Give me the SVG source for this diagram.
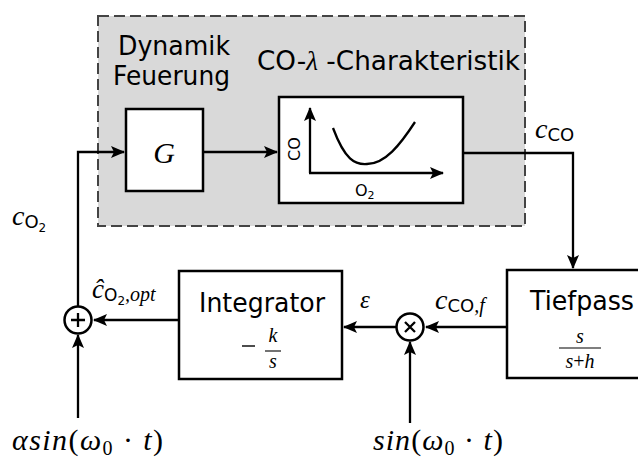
<svg xmlns="http://www.w3.org/2000/svg" width="638" height="458" viewBox="0 0 638 458">
<style>
.box{fill:#fff;stroke:#000;stroke-width:2.5}
.ln{fill:none;stroke:#000;stroke-width:2.3}
.sans{font-family:"DejaVu Sans",sans-serif;fill:#000}
.math{font-family:"Liberation Serif","DejaVu Serif",serif;font-style:italic;fill:#000}
.up{font-family:"Liberation Serif",serif;font-style:normal}
</style>
<defs>
<marker id="ah" markerUnits="userSpaceOnUse" markerWidth="14" markerHeight="12" viewBox="0 0 14 12" refX="13" refY="6" orient="auto">
<path d="M0,0 L14,6 L0,12 L3,6 Z" fill="#000"/>
</marker>
</defs>

<g id="group-box">
<rect x="98" y="16" width="427" height="210" fill="#d9d9d9" stroke="#444" stroke-width="2" stroke-dasharray="11,5"/>
<text class="sans" x="118" y="55" font-size="27" textLength="112" lengthAdjust="spacingAndGlyphs">Dynamik</text>
<text class="sans" x="113" y="85" font-size="27" textLength="117" lengthAdjust="spacingAndGlyphs">Feuerung</text>
<text class="sans" x="257" y="70" font-size="27" textLength="263" lengthAdjust="spacingAndGlyphs">CO-<tspan class="math" font-size="28">λ</tspan> -Charakteristik</text>
</g>

<g id="node-G">
<rect class="box" x="126" y="109" width="77" height="82"/>
<text class="math" x="164" y="163" font-size="30" text-anchor="middle">G</text>
</g>

<g id="node-CO">
<rect class="box" x="279" y="97" width="184" height="106"/>
<line class="ln" x1="310" y1="173" x2="310" y2="108" marker-end="url(#ah)"/>
<line class="ln" x1="309" y1="173" x2="443" y2="173" marker-end="url(#ah)"/>
<path class="ln" d="M333,128 C345,160 355,165 367,164 C385,164 400,145 415,122"/>
<text class="sans" font-size="16" text-anchor="middle" transform="translate(300,149) rotate(-90)">CO</text>
<text class="sans" x="355" y="196" font-size="16">O<tspan font-size="11" dy="3">2</tspan></text>
</g>

<g id="node-integrator">
<rect class="box" x="179" y="271" width="163" height="108"/>
<text class="sans" x="262" y="312" font-size="26" text-anchor="middle" textLength="126" lengthAdjust="spacingAndGlyphs">Integrator</text>
<line x1="242" y1="346" x2="255" y2="346" stroke="#000" stroke-width="1.4"/>
<text class="math" x="273" y="342" font-size="20" text-anchor="middle">k</text>
<line x1="265" y1="351" x2="281" y2="351" stroke="#000" stroke-width="1.1"/>
<text class="math" x="273" y="368" font-size="20" text-anchor="middle">s</text>
</g>

<g id="node-tiefpass">
<rect class="box" x="507" y="270" width="140" height="108"/>
<text class="sans" x="530" y="310" font-size="26" textLength="104" lengthAdjust="spacingAndGlyphs">Tiefpass</text>
<text class="math" x="580" y="343" font-size="20" text-anchor="middle">s</text>
<line x1="559" y1="348" x2="601" y2="348" stroke="#000" stroke-width="1.1"/>
<text class="math" x="580" y="368" font-size="20" text-anchor="middle">s<tspan class="up">+</tspan>h</text>
</g>

<g id="node-sum">
<circle cx="78" cy="320" r="13.5" fill="#fff" stroke="#000" stroke-width="2.5"/>
<path d="M71,320 H85 M78,313 V327" stroke="#000" stroke-width="2.3"/>
</g>

<g id="node-mult">
<circle cx="410" cy="327" r="13.5" fill="#fff" stroke="#000" stroke-width="2.5"/>
<path d="M405,322 L415,332 M415,322 L405,332" stroke="#000" stroke-width="2.3"/>
</g>

<g id="connectors">
<polyline class="ln" points="78,306 78,152 124,152" marker-end="url(#ah)"/>
<line class="ln" x1="203" y1="152" x2="277" y2="152" marker-end="url(#ah)"/>
<polyline class="ln" points="463,153 573,153 573,268" marker-end="url(#ah)"/>
<line class="ln" x1="507" y1="327" x2="426" y2="327" marker-end="url(#ah)"/>
<line class="ln" x1="396" y1="327" x2="344" y2="327" marker-end="url(#ah)"/>
<line class="ln" x1="179" y1="320" x2="94" y2="320" marker-end="url(#ah)"/>
<line class="ln" x1="78" y1="418" x2="78" y2="335" marker-end="url(#ah)"/>
<line class="ln" x1="410" y1="423" x2="410" y2="342" marker-end="url(#ah)"/>
</g>

<g id="labels">
<text class="math" x="535" y="138" font-size="28">c<tspan class="sans" font-style="normal" font-size="18" dy="3">CO</tspan></text>
<text class="math" x="12" y="225" font-size="28">c<tspan class="sans" font-style="normal" font-size="18" dy="3">O</tspan><tspan class="sans" font-style="normal" font-size="12" dy="4">2</tspan></text>
<text class="math" x="92" y="298" font-size="27">ĉ<tspan class="sans" font-style="normal" font-size="17" dy="3">O</tspan><tspan class="sans" font-style="normal" font-size="12" dy="4">2</tspan><tspan font-size="20" dy="-4">,opt</tspan></text>
<text class="math" x="360" y="308" font-size="25">ε</text>
<text class="math" x="435" y="309" font-size="28">c<tspan class="sans" font-style="normal" font-size="18" dy="3">CO</tspan><tspan font-size="20">,f</tspan></text>
<text class="math" x="12" y="450" font-size="30" textLength="151" lengthAdjust="spacing">αsin<tspan class="up">(</tspan>ω<tspan class="up" font-size="20" dy="5">0</tspan><tspan class="up" dy="-5"> · </tspan>t<tspan class="up">)</tspan></text>
<text class="math" x="373" y="450" font-size="30" textLength="130" lengthAdjust="spacing">sin<tspan class="up">(</tspan>ω<tspan class="up" font-size="20" dy="5">0</tspan><tspan class="up" dy="-5"> · </tspan>t<tspan class="up">)</tspan></text>
</g>
</svg>
